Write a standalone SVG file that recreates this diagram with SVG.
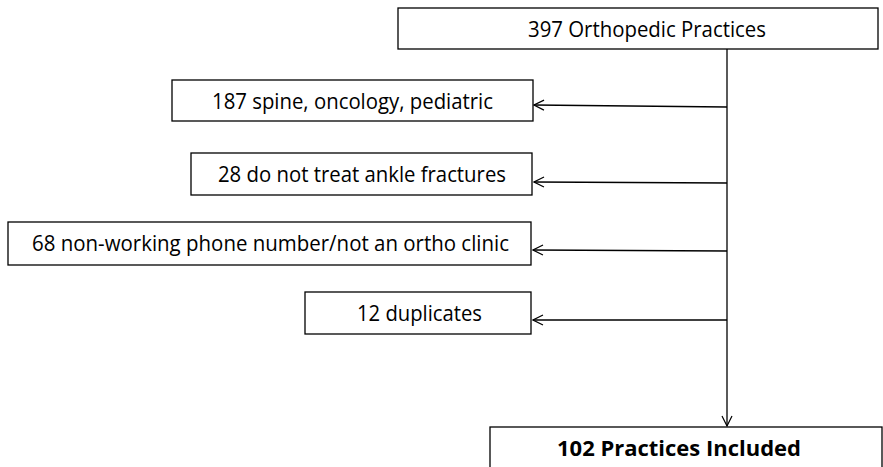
<svg xmlns="http://www.w3.org/2000/svg" width="883" height="467" viewBox="0 0 883 467">
<style>
.box{fill:#fff;stroke:#000;stroke-width:1.3}
.t{font-family:"Open Sans","Liberation Sans",sans-serif;font-size:21px;fill:#000;text-anchor:middle}
.b{font-weight:bold}
.c{fill:none;stroke:#000;stroke-width:1.3}
</style>
<defs>
<marker id="ah" viewBox="0 0 12 12" refX="11" refY="6" markerWidth="12" markerHeight="12" markerUnits="userSpaceOnUse" orient="auto">
<path d="M1,1 L11,6 L1,11" fill="none" stroke="#000" stroke-width="1.2"/>
</marker>
</defs>
<g id="connectors">
<line class="c" x1="727" y1="49" x2="727" y2="426" marker-end="url(#ah)"/>
<line class="c" x1="727" y1="107" x2="534" y2="105" marker-end="url(#ah)"/>
<line class="c" x1="727" y1="183" x2="534" y2="182" marker-end="url(#ah)"/>
<line class="c" x1="727" y1="251" x2="533" y2="250" marker-end="url(#ah)"/>
<line class="c" x1="727" y1="320" x2="533" y2="320" marker-end="url(#ah)"/>
</g>
<g id="n0"><rect class="box" x="398" y="8" width="480" height="41"/><text class="t" x="647" y="37" textLength="238" lengthAdjust="spacingAndGlyphs">397 Orthopedic Practices</text></g>
<g id="n1"><rect class="box" x="172" y="80" width="361" height="41"/><text class="t" x="352.5" y="109" textLength="281" lengthAdjust="spacingAndGlyphs">187 spine, oncology, pediatric</text></g>
<g id="n2"><rect class="box" x="191" y="153" width="341" height="42"/><text class="t" x="362" y="182" textLength="288" lengthAdjust="spacingAndGlyphs">28 do not treat ankle fractures</text></g>
<g id="n3"><rect class="box" x="8" y="222" width="523" height="43"/><text class="t" x="270.5" y="251" textLength="477" lengthAdjust="spacingAndGlyphs">68 non-working phone number/not an ortho clinic</text></g>
<g id="n4"><rect class="box" x="305" y="292" width="226" height="42"/><text class="t" x="419.5" y="321" textLength="125" lengthAdjust="spacingAndGlyphs">12 duplicates</text></g>
<g id="n5"><rect class="box" x="490" y="427" width="392" height="41"/><text class="t b" x="679" y="456" textLength="244" lengthAdjust="spacingAndGlyphs">102 Practices Included</text></g>
</svg>
